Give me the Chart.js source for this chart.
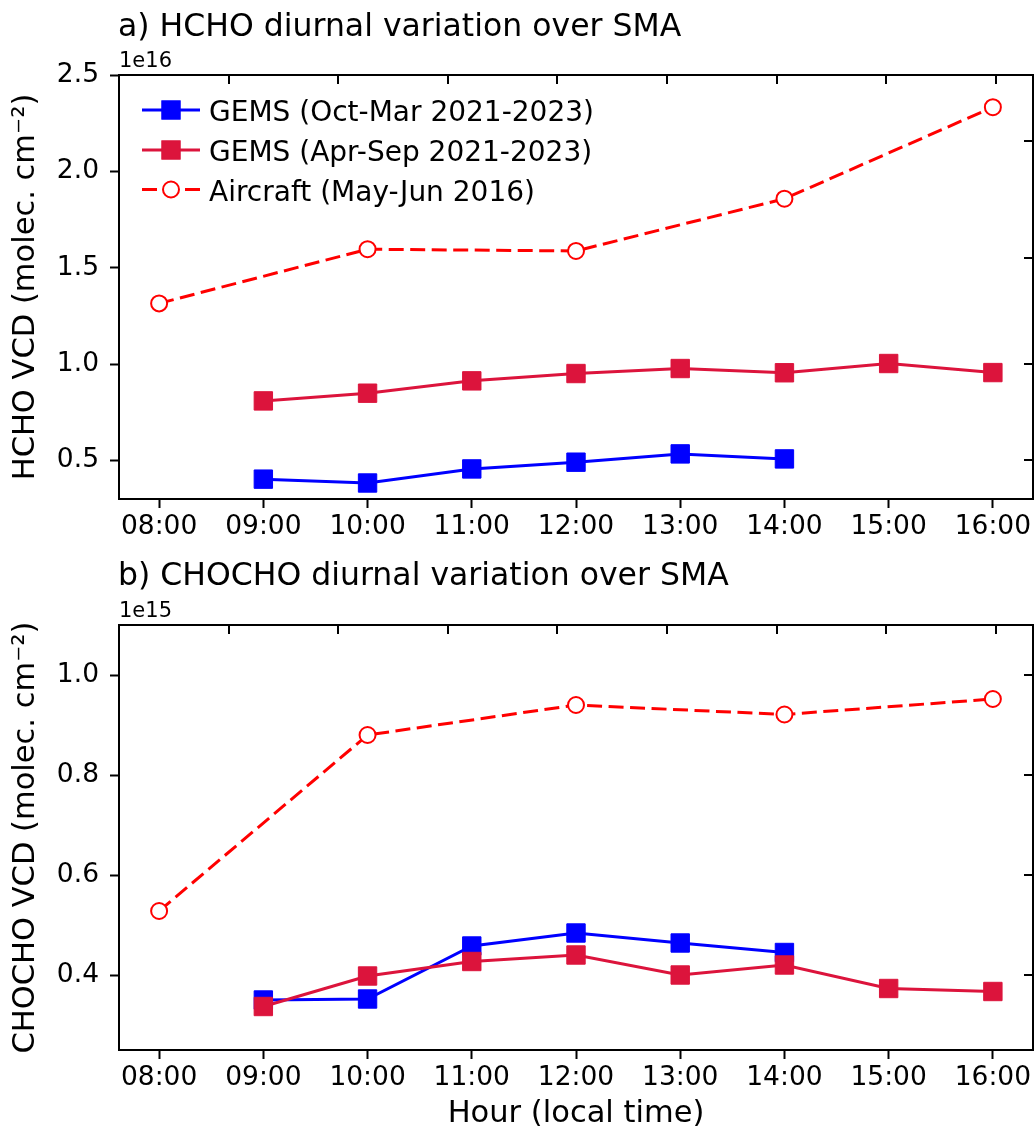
<!DOCTYPE html>
<html><head><meta charset="utf-8">
<script src="https://cdn.jsdelivr.net/npm/chart.js@4.4.0/dist/chart.umd.min.js"></script>
<style>
html,body{margin:0;padding:0;background:#fff;}
body{width:1036px;height:1130px;overflow:hidden;position:relative;}
.w{position:absolute;left:0;width:1036px;}
#w1{top:0;height:560px;}
#w2{top:560px;height:570px;}
</style></head>
<body>
<div class="w" id="w1"><canvas id="c1"></canvas></div>
<div class="w" id="w2"><canvas id="c2"></canvas></div>
<script>
// ---------- data ----------
const hourIndex = [0,1,2,3,4,5,6,7,8];
const hourLabels = ['08:00','09:00','10:00','11:00','12:00','13:00','14:00','15:00','16:00'];
const seriesNames = ['GEMS (Oct-Mar 2021-2023)','GEMS (Apr-Sep 2021-2023)','Aircraft (May-Jun 2016)'];
// HCHO VCD, units of 1e16 molec. cm^-2
const hchoOctMar   = [null,0.403,0.383,0.456,0.491,0.534,0.508,null,null];
const hchoAprSep   = [null,0.809,0.849,0.913,0.951,0.977,0.955,1.003,0.956];
const hchoAircraft = [1.315,null,1.596,null,1.587,null,1.858,null,2.333];
// CHOCHO VCD, units of 1e15 molec. cm^-2
const chochoOctMar   = [null,0.350,0.352,0.458,0.484,0.464,0.445,null,null];
const chochoAprSep   = [null,0.337,0.398,0.427,0.440,0.400,0.420,0.373,0.367];
const chochoAircraft = [0.528,null,0.880,null,0.940,null,0.921,null,0.952];
// ticks
const hchoYTicks = [0.5,1.0,1.5,2.0,2.5];
const chochoYTicks = [0.4,0.6,0.8,1.0];
const hchoRightTicks = [0.5,1.0,1.55,2.16];
const chochoRightTicks = [0.4,0.6,0.8,1.0];
const topTicks = [1,2,3,4,5,6,7,8];

// ---------- styling ----------
Chart.defaults.font.family = "'DejaVu Sans', sans-serif";
Chart.defaults.color = '#000';
const BLUE = '#0000ff', CRIMSON = '#dc143c', RED = '#ff0000';
const TICK_FONT = {size: 26.5};

function toPoints(arr){
  return hourIndex.map((h,i)=>({x:h, y:arr[i]})).filter(p=>p.y!==null);
}
function makeDatasets(a,b,c){
  return [
    {label:seriesNames[0], data:toPoints(a), borderColor:BLUE, backgroundColor:BLUE,
     borderWidth:3, pointStyle:'rect', pointRadius:13, pointHoverRadius:13, pointBorderWidth:1,
     pointBackgroundColor:BLUE, pointBorderColor:BLUE, order:3, tension:0},
    {label:seriesNames[1], data:toPoints(b), borderColor:CRIMSON, backgroundColor:CRIMSON,
     borderWidth:3, pointStyle:'rect', pointRadius:13, pointHoverRadius:13, pointBorderWidth:1,
     pointBackgroundColor:CRIMSON, pointBorderColor:CRIMSON, order:2, tension:0},
    {label:seriesNames[2], data:toPoints(c), borderColor:RED, backgroundColor:'#ffffff',
     borderWidth:3, borderDash:[15,6.5], pointStyle:'circle', pointRadius:8, pointHoverRadius:8,
     pointBorderWidth:2, pointBackgroundColor:'#ffffff', pointBorderColor:RED, order:1,
     spanGaps:true, tension:0}
  ];
}

// frame: top/right spines, inward ticks
const framePlugin = {
  id:'frame',
  afterDraw(chart, args, opts){
    const ctx = chart.ctx, ca = chart.chartArea;
    ctx.save();
    ctx.strokeStyle = '#000'; ctx.lineWidth = 2; ctx.setLineDash([]);
    ctx.beginPath();
    ctx.moveTo(ca.left-1, ca.top); ctx.lineTo(ca.right, ca.top);
    ctx.moveTo(ca.right, ca.top-1); ctx.lineTo(ca.right, ca.bottom+1);
    ctx.stroke();
    const x2 = chart.scales.x2, y = chart.scales.y;
    ctx.beginPath();
    opts.topTicks.forEach(v=>{
      const px = Math.round(x2.getPixelForValue(v));
      ctx.moveTo(px, ca.top); ctx.lineTo(px, ca.top+9);
    });
    opts.rightTicks.forEach(v=>{
      const py = Math.round(y.getPixelForValue(v));
      ctx.moveTo(ca.right, py); ctx.lineTo(ca.right-9, py);
    });
    ctx.stroke();
    ctx.restore();
  }
};

// panel title + offset text
const panelPlugin = {
  id:'panel',
  afterDraw(chart, args, opts){
    const ctx = chart.ctx, ca = chart.chartArea;
    ctx.save();
    ctx.fillStyle = '#000';
    ctx.textAlign = 'left'; ctx.textBaseline = 'alphabetic';
    ctx.font = "31.5px 'DejaVu Sans'";
    ctx.fillText(opts.title, ca.left-1, opts.titleBaseline);
    ctx.font = "21px 'DejaVu Sans'";
    ctx.fillText(opts.offset, ca.left, ca.top - 8);
    ctx.restore();
  }
};

// legend inside axes, upper left
const insideLegend = {
  id:'insideLegend',
  afterDraw(chart, args, opts){
    if(!opts.show) return;
    const ctx = chart.ctx, ca = chart.chartArea;
    ctx.save();
    chart.data.datasets.forEach((ds,i)=>{
      const y = ca.top + opts.rows[i];
      const x0 = ca.left + 23, x1 = ca.left + 81, xm = ca.left + 52;
      ctx.strokeStyle = ds.borderColor; ctx.lineWidth = ds.borderWidth;
      ctx.setLineDash(ds.borderDash || []);
      ctx.beginPath(); ctx.moveTo(x0, y); ctx.lineTo(x1, y); ctx.stroke();
      ctx.setLineDash([]);
      if(ds.pointStyle === 'rect'){
        const s = ds.pointRadius*Math.SQRT1_2;
        ctx.fillStyle = ds.pointBackgroundColor;
        ctx.fillRect(xm-s, y-s, 2*s, 2*s);
        ctx.lineWidth = ds.pointBorderWidth; ctx.strokeStyle = ds.pointBorderColor;
        ctx.strokeRect(xm-s, y-s, 2*s, 2*s);
      } else {
        ctx.beginPath(); ctx.arc(xm, y, ds.pointRadius, 0, Math.PI*2);
        ctx.fillStyle = ds.pointBackgroundColor; ctx.fill();
        ctx.lineWidth = ds.pointBorderWidth; ctx.strokeStyle = ds.pointBorderColor; ctx.stroke();
      }
      ctx.fillStyle = '#000';
      ctx.font = "28px 'DejaVu Sans'";
      ctx.textAlign = 'left'; ctx.textBaseline = 'alphabetic';
      ctx.fillText(ds.label, ca.left + 90, y + 11);
    });
    ctx.restore();
  }
};

function makeChart(id, cfg){
  const zeroPad = s => { s.paddingTop = 0; s.paddingBottom = 0; s.paddingLeft = 0; s.paddingRight = 0; };
  return new Chart(document.getElementById(id), {
    type:'line',
    data:{datasets: cfg.datasets},
    plugins:[framePlugin, panelPlugin, insideLegend],
    options:{
      responsive:true, maintainAspectRatio:false, devicePixelRatio:1, animation:false,
      layout:{autoPadding:false, padding:{left:0, right:3, top:cfg.padTop, bottom:0}},
      plugins:{
        legend:{display:false}, tooltip:{enabled:false}, title:{display:false},
        frame:{topTicks:topTicks, rightTicks:cfg.rightTicks},
        panel:{title:cfg.title, offset:cfg.offset, titleBaseline:cfg.titleBaseline},
        insideLegend:{show:cfg.legend, rows:[35,75,114.5]}
      },
      scales:{
        x:{type:'linear', position:'bottom', min:-0.385, max:8.385,
          afterBuildTicks: s => { s.ticks = hourIndex.map(v=>({value:v})); },
          ticks:{font:TICK_FONT, color:'#000', padding:3, maxRotation:0, minRotation:0, autoSkip:false,
            callback: v => hourLabels[hourIndex.indexOf(v)]},
          grid:{display:true, drawOnChartArea:false, drawTicks:true, tickLength:9, tickWidth:2, tickColor:'#000'},
          border:{display:true, color:'#000', width:2},
          title: cfg.xTitle ? {display:true, text:cfg.xTitle, font:{size:30.5, lineHeight:1.0}, color:'#000', padding:{top:0,bottom:1}} : {display:false},
          afterFit: s => { s.height = cfg.xHeight; zeroPad(s); }
        },
        x2:{type:'linear', position:'top', display:false, min:0, max:8.34},
        y:{type:'linear', position:'left', min:cfg.yMin, max:cfg.yMax,
          afterBuildTicks: s => { s.ticks = cfg.yTicks.map(v=>({value:v})); },
          ticks:{font:TICK_FONT, color:'#000', padding:11, callback: v => Number(v).toFixed(1)},
          grid:{display:true, drawOnChartArea:false, drawTicks:true, tickLength:9, tickWidth:2, tickColor:'#000'},
          border:{display:true, color:'#000', width:2},
          title:{display:true, text:cfg.yTitle, font:{size:30.5}, color:'#000', padding:{top:8,bottom:0}},
          afterFit: s => { s.width = 119; zeroPad(s); }
        }
      }
    }
  });
}

makeChart('c1', {
  datasets: makeDatasets(hchoOctMar, hchoAprSep, hchoAircraft),
  padTop:75, xHeight:61, yMin:0.3, yMax:2.5, yTicks:hchoYTicks, rightTicks:hchoRightTicks,
  yTitle:'HCHO VCD (molec. cm⁻²)', title:'a) HCHO diurnal variation over SMA', offset:'1e16',
  titleBaseline:36, legend:true, xTitle:null
});
makeChart('c2', {
  datasets: makeDatasets(chochoOctMar, chochoAprSep, chochoAircraft),
  padTop:65, xHeight:80, yMin:0.25, yMax:1.1, yTicks:chochoYTicks, rightTicks:chochoRightTicks,
  yTitle:'CHOCHO VCD (molec. cm⁻²)', title:'b) CHOCHO diurnal variation over SMA', offset:'1e15',
  titleBaseline:25, legend:false, xTitle:'Hour (local time)'
});
</script>
</body></html>
